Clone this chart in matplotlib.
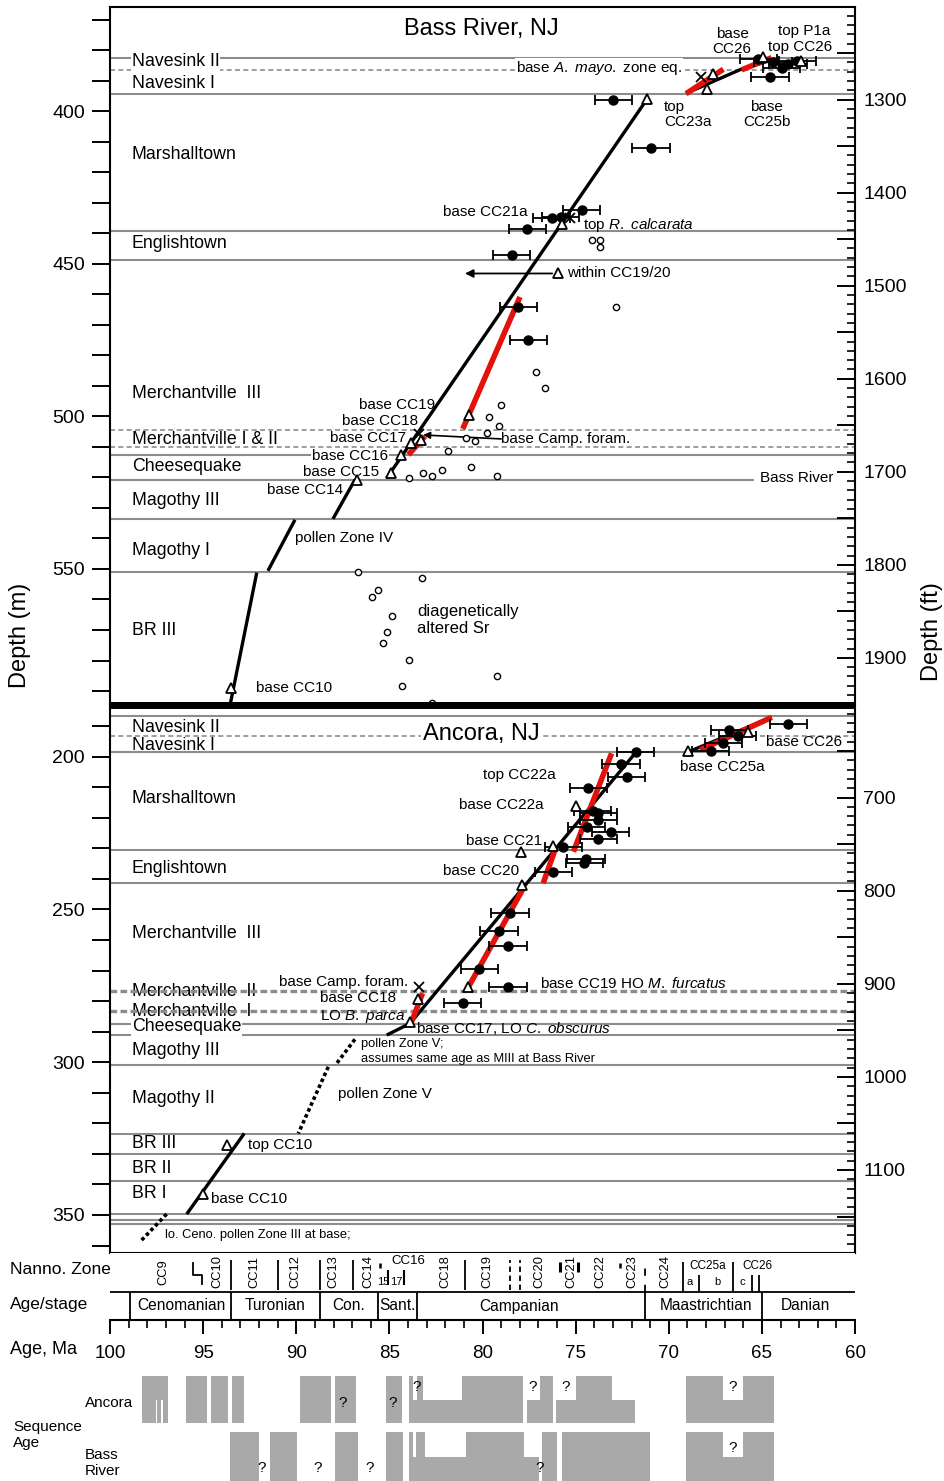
import numpy as np
import matplotlib.pyplot as plt
from matplotlib.ticker import MultipleLocator, FuncFormatter

plt.rcParams['font.family'] = ['Liberation Sans', 'DejaVu Sans']
plt.rcParams['mathtext.fontset'] = 'custom'
plt.rcParams['mathtext.rm'] = 'Liberation Sans'
plt.rcParams['mathtext.it'] = 'Liberation Sans:italic'

W, H = 944, 1481
FT = 0.3048
RED = '#e3120b'
GREY = '#8c8c8c'
BAR = '#a9a9a9'

# ---------------- Bass River (ages in Ma, depths in m) ----------------
br_units_solid = [382.7, 394.5, 439.3, 448.9, 512.8, 520.8, 533.5, 551.1]
br_units_dash = [386.4, 504.6, 510.2]
br_unit_names = ['Navesink II', 'Navesink I', 'Marshalltown', 'Englishtown',
                 'Merchantville  III', 'Merchantville I & II', 'Cheesequake',
                 'Magothy III', 'Magothy I', 'BR III']
br_unit_depths = [383.7, 390.9, 414.2, 443.4, 492.6, 507.6, 516.5, 527.6, 544.0, 570.3]

br_model = [([69.07, 66.12, 64.30], [394.2, 386.3, 383.0]),
            ([71.18, 85.14], [396.2, 520.2]),
            ([86.85, 88.03], [520.8, 533.6]),
            ([90.07, 91.52], [533.9, 550.6]),
            ([92.12, 93.60], [551.2, 596.0])]
br_red = [([69.07, 67.07], [394.3, 386.3]),
          ([66.09, 64.48], [386.5, 382.5]),
          ([77.99, 81.06], [460.9, 504.1]),
          ([83.09, 83.98], [506.5, 512.6])]

br_sr_age = [72.97, 70.95, 74.67, 75.80, 76.28, 77.60, 78.43, 78.08, 77.54,
             64.56, 63.94, 65.20, 64.40, 63.60, 63.10]
br_sr_depth = [396.3, 412.2, 432.5, 434.6, 435.0, 438.5, 447.3, 464.1, 474.9,
               388.7, 385.8, 383.0, 384.0, 384.5, 383.6]

br_alt_age = [72.85, 74.14, 73.69, 73.69, 77.14, 76.64, 79.02, 79.65, 79.10, 79.77,
              80.90, 80.40, 81.87, 80.62, 82.19, 83.18, 82.70, 83.95, 79.24, 86.70,
              83.24, 85.63, 85.95, 84.84, 85.11, 85.33, 83.93, 84.34, 82.70, 79.24]
br_alt_depth = [464.1, 442.3, 442.1, 444.4, 485.6, 490.8, 496.4, 500.1, 503.0, 505.6,
                507.2, 508.2, 511.5, 516.5, 517.5, 518.4, 519.5, 520.3, 519.4, 551.1,
                553.0, 556.8, 559.3, 565.3, 570.5, 574.3, 579.8, 588.2, 594.0, 585.2]

br_tri_age = [71.18, 67.93, 67.61, 64.93, 62.90, 75.75, 75.96, 80.73, 83.32, 83.86,
              84.38, 84.91, 86.76, 93.50]
br_tri_depth = [396.2, 392.7, 388.0, 382.2, 383.6, 437.1, 453.2, 499.7, 507.9, 508.7,
                512.6, 518.4, 521.0, 589.0]
br_x_age = [68.27, 83.39, 75.30]
br_x_depth = [388.7, 505.8, 435.0]

br_notes = [  # text, age, depth, ha, size
    ('base\nCC26', 66.60, 377.1, 'center', 11),
    ('top P1a', 64.13, 373.9, 'left', 11),
    ('top CC26', 64.67, 379.1, 'left', 11),
    ('top\nCC23a', 70.26, 401.1, 'left', 11),
    ('base\nCC25b', 64.73, 401.1, 'center', 11),
    ('base CC21a', 77.56, 433.2, 'right', 11),
    (r'top $\mathit{R.\ calcarata}$', 74.60, 437.2, 'left', 11),
    ('within CC19/20', 75.46, 453.2, 'left', 11),
    ('base CC19', 82.55, 496.2, 'right', 11),
    ('base CC18', 83.46, 501.4, 'right', 11),
    ('base CC17', 84.11, 507.0, 'right', 11),
    ('base CC15', 85.56, 518.1, 'right', 11),
    ('base CC14', 87.49, 524.0, 'right', 11),
    ('base Camp. foram.', 79.01, 507.3, 'left', 11),
    ('pollen Zone IV', 90.07, 539.8, 'left', 11),
    ('diagenetically\naltered Sr', 83.52, 566.7, 'left', 12),
    ('base CC10', 92.16, 589.0, 'left', 11),
]

# ---------------- Ancora ----------------
an_units_solid = [186.7, 198.4, 230.5, 241.4, 287.6, 291.1, 300.9, 323.6, 330.0,
                  338.8, 349.7, 351.7, 353.1]
an_units_dash = [193.2]
an_units_dash_bold = [276.7, 283.2]
an_unit_names = ['Navesink II', 'Navesink I', 'Marshalltown', 'Englishtown',
                 'Merchantville  III', 'Merchantville  II', 'Merchantville  I',
                 'Cheesequake', 'Magothy III', 'Magothy II', 'BR III', 'BR II', 'BR I']
an_unit_depths = [190.3, 196.2, 213.8, 236.7, 258.0, 277.0, 283.5, 288.4, 296.0,
                  312.0, 326.7, 334.9, 343.1]

an_model = [([71.77, 83.89, 85.14], [198.6, 287.3, 291.1]),
            ([92.79, 95.88], [323.3, 349.7]),
            ([68.95, 64.47], [198.4, 187.1])]
an_model_dotted = [([86.85, 87.83], [292.5, 300.4]),
                   ([88.28, 89.89], [301.5, 323.3]),
                   ([96.96, 98.39], [349.7, 358.8])]
an_red = [([76.74, 76.11], [241.4, 230.5]),
          ([75.12, 73.07], [231.1, 198.9]),
          ([80.85, 77.81], [276.4, 243.1]),
          ([83.80, 83.22], [286.7, 277.4]),
          ([68.32, 64.47], [197.8, 187.1])]

an_sr_age = [71.77, 72.56, 72.26, 74.32, 74.09, 73.79, 73.79, 74.41, 73.12, 73.79,
             75.66, 74.44, 74.53, 76.20, 78.52, 79.11, 78.63, 80.17, 78.63, 81.06,
             66.75, 66.30, 67.07, 67.75, 63.58]
an_sr_depth = [198.6, 202.4, 206.5, 210.3, 217.8, 218.3, 220.8, 223.1, 224.5, 227.0,
               229.5, 233.6, 234.9, 237.6, 251.3, 257.0, 261.9, 269.5, 275.3, 280.5,
               191.3, 193.2, 195.6, 198.0, 189.3]

an_tri_age = [77.92, 76.24, 74.98, 77.90, 80.76, 83.48, 83.89, 68.95, 65.73, 93.70, 95.00]
an_tri_depth = [231.1, 229.2, 216.0, 242.0, 275.3, 279.4, 286.7, 198.1, 191.8, 327.0, 343.0]
an_x_age = [83.41]
an_x_depth = [275.5]

an_notes = [
    ('base CC26', 64.78, 195.2, 'left', 11),
    ('base CC25a', 69.40, 203.4, 'left', 11),
    ('top CC22a', 79.97, 206.0, 'left', 11),
    ('base CC22a', 81.26, 215.8, 'left', 11),
    ('base CC21', 80.89, 227.6, 'left', 11),
    ('base CC20', 82.12, 237.4, 'left', 11),
    ('base Camp. foram.', 90.93, 273.7, 'left', 11),
    ('base CC18', 88.72, 279.0, 'left', 11),
    (r'LO $\mathit{B.\ parca}$', 88.72, 284.9, 'left', 11),
    (r'base CC19 HO $\mathit{M.\ furcatus}$', 76.91, 274.1, 'left', 11),
    (r'base CC17, LO $\mathit{C.\ obscurus}$', 83.57, 289.1, 'left', 11),
    ('pollen Zone V;', 86.52, 294.0, 'left', 9.3),
    ('assumes same age as MIII at Bass River', 86.52, 298.9, 'left', 9.3),
    ('pollen Zone V', 87.76, 310.4, 'left', 11),
    ('top CC10', 92.59, 327.1, 'left', 11),
    ('base CC10', 94.58, 344.8, 'left', 11),
    ('lo. Ceno. pollen Zone III at base;', 97.05, 356.6, 'left', 9.3),
]

# ---------------- time scale ----------------
stage_bounds = [98.9, 93.5, 88.7, 85.6, 83.5, 71.3, 65.0]
stage_names = ['Cenomanian', 'Turonian', 'Con.', 'Sant.', 'Campanian', 'Maastrichtian', 'Danian']
stage_mid = [96.19, 91.14, 87.17, 84.59, 78.04, 68.0, 62.68]

zone_names = ['CC9', 'CC10', 'CC11', 'CC12', 'CC13', 'CC14', 'CC18', 'CC19',
              'CC20', 'CC21', 'CC22', 'CC23', 'CC24']
zone_mid = [97.15, 94.26, 92.27, 90.07, 88.03, 86.15, 82.01, 79.76,
            76.97, 75.25, 73.69, 71.97, 70.20]
zone_bounds_full = [93.5, 90.98, 88.72, 86.95, 80.94, 69.23, 66.55]
zone_bounds_dash = [78.52, 77.99, 71.28]
zone_bounds_short = [85.50, 72.62]
zone_bounds_mid = [85.07, 84.21]
zone_bounds_bold = [75.84, 74.87]
zone_bounds_low = [68.38, 65.53, 65.15]

# sequences: (older age, younger age, full height?)
an_seq = [(98.28, 96.89, 1), (95.92, 94.79, 1), (94.58, 93.66, 1), (93.45, 92.81, 1),
          (89.80, 88.13, 1), (87.92, 86.79, 1), (85.18, 84.32, 1),
          (83.95, 83.73, 1), (83.73, 83.52, 0), (83.52, 83.19, 1), (83.19, 81.10, 0),
          (81.10, 77.83, 1), (77.61, 76.91, 0), (76.91, 76.21, 1),
          (76.05, 74.98, 0), (74.98, 73.05, 1), (73.05, 71.81, 0),
          (69.07, 67.11, 1), (67.11, 66.01, 0), (66.01, 64.35, 1)]
an_seq_gaps = [97.48, 97.21]
an_q = [(87.49, 0), (84.81, 0), (83.53, 1), (77.29, 1), (75.52, 1), (66.55, 1)]

br_seq = [(93.56, 92.00, 1), (91.41, 89.96, 1), (87.92, 86.68, 1), (85.18, 84.27, 1),
          (83.95, 83.73, 1), (83.73, 83.57, 0), (83.57, 83.09, 1), (83.09, 80.89, 0),
          (80.89, 77.77, 1), (77.77, 76.97, 0), (76.81, 76.00, 1), (75.73, 71.01, 1),
          (69.07, 67.11, 1), (67.11, 66.01, 0), (66.01, 64.35, 1)]
br_q = [(91.84, 0), (88.83, 0), (86.04, 0), (76.91, 0), (66.55, 1)]


def box(x0, y0, x1, y1):
    return [x0 / W, 1 - y1 / H, (x1 - x0) / W, (y1 - y0) / H]


fig = plt.figure(figsize=(W / 100, H / 100), dpi=100)


def depth_panel(rect, ylim):
    ax = fig.add_axes(rect)
    ax.set_xlim(100, 60)
    ax.set_ylim(*ylim)
    ax.set_xticks([])
    ax.yaxis.set_major_locator(MultipleLocator(10))
    ax.yaxis.set_major_formatter(FuncFormatter(
        lambda v, p: f'{v:.0f}' if round(v) % 50 == 0 else ''))
    ax.tick_params(axis='y', direction='out', length=13, width=1.4,
                   labelsize=14, pad=5)
    for s in ax.spines.values():
        s.set_linewidth(1.5)
    axr = ax.twinx()
    axr.set_ylim(ylim[0] / FT, ylim[1] / FT)
    axr.yaxis.set_major_locator(MultipleLocator(50))
    axr.yaxis.set_minor_locator(MultipleLocator(10))
    axr.yaxis.set_major_formatter(FuncFormatter(
        lambda v, p: f'{v:.0f}' if round(v) % 100 == 0 else ''))
    axr.tick_params(axis='y', which='major', direction='in', length=13, width=1.4,
                    labelsize=14, pad=6)
    axr.tick_params(axis='y', which='minor', direction='in', length=6, width=1.2)
    for s in axr.spines.values():
        s.set_visible(False)
    return ax


def draw_marks(ax, model, red, sr_a, sr_d, tri_a, tri_d, x_a, x_d):
    for a, d in model:
        ax.plot(a, d, color='k', lw=2.4, solid_capstyle='butt', zorder=4)
    for a, d in red:
        ax.plot(a, d, color=RED, lw=4, solid_capstyle='butt', zorder=4.5)
    ax.errorbar(sr_a, sr_d, xerr=1.0, fmt='o', ms=6.5, mfc='k', mec='k', ecolor='k',
                elinewidth=1.3, capsize=3.5, capthick=1.3, zorder=5)
    ax.plot(tri_a, tri_d, ls='none', marker='^', ms=7, mfc='white', mec='k',
            mew=1.3, zorder=6)
    ax.plot(x_a, x_d, ls='none', marker='x', ms=7, mec='k', mew=1.3, zorder=6)


# ---- Bass River panel ----
ax1 = depth_panel(box(110, 7, 855, 704.5), (594.4, 365.9))
ax1.spines['bottom'].set_linewidth(5)
ax1.spines['bottom'].set_capstyle('butt')
ax1.hlines(br_units_solid[:5], 100, 60, color=GREY, lw=1.5, zorder=1)
ax1.hlines(br_units_solid[5], 100, 65.4, color=GREY, lw=1.5, zorder=1)
ax1.hlines(br_units_solid[6:], 100, 60, color=GREY, lw=1.5, zorder=1)
ax1.hlines(br_units_dash, 100, 60, color=GREY, lw=1.2, linestyles=(0, (3, 2)), zorder=1)
for name, d in zip(br_unit_names, br_unit_depths):
    ax1.text(98.82, d, name, fontsize=12.8, va='center', ha='left', zorder=2,
             bbox=dict(fc='white', ec='none', pad=0.5) if name == 'Navesink II' else None)
ax1.text(80.08, 373.2, 'Bass River, NJ', fontsize=17, ha='center', va='center')
ax1.text(78.20, 386.0, r'base $\mathit{A.\ mayo.}$ zone eq.', fontsize=11,
         va='center', ha='left', zorder=2, bbox=dict(fc='white', ec='none', pad=1))
ax1.text(85.07, 512.9, 'base CC16', fontsize=11, va='center', ha='right', zorder=2,
         bbox=dict(fc='white', ec='none', pad=0.5))
ax1.text(61.18, 520.1, 'Bass River', fontsize=11, va='center', ha='right', zorder=2)
for t, a, d, ha, fs in br_notes:
    ax1.text(a, d, t, fontsize=fs, va='center', ha=ha, zorder=3, linespacing=1.1)
ax1.plot(br_alt_age, br_alt_depth, ls='none', marker='o', ms=4.5, mfc='white',
         mec='k', mew=1, zorder=5)
draw_marks(ax1, br_model, br_red, br_sr_age, br_sr_depth, br_tri_age, br_tri_depth,
           br_x_age, br_x_depth)
ax1.annotate('', xy=(80.94, 453.2), xytext=(75.96, 453.2),
             arrowprops=dict(arrowstyle='-|>', color='k', lw=1.3, mutation_scale=12,
                             shrinkA=4, shrinkB=0), zorder=4)
ax1.annotate('', xy=(83.19, 506.1), xytext=(79.0, 507.4),
             arrowprops=dict(arrowstyle='-|>', color='k', lw=1.2, mutation_scale=10,
                             shrinkA=0, shrinkB=0), zorder=4)

# ---- Ancora panel ----
ax2 = depth_panel(box(110, 704.5, 855, 1253), (362.45, 182.9))
ax2.spines['top'].set_linewidth(5)
ax2.spines['top'].set_capstyle('butt')
ax2.hlines(an_units_solid, 100, 60, color=GREY, lw=1.5, zorder=1)
ax2.hlines(an_units_dash, 100, 60, color=GREY, lw=1.2, linestyles=(0, (3, 2)), zorder=1)
ax2.hlines(an_units_dash_bold, 100, 60, color=GREY, lw=2.4, linestyles=(0, (2, 1)), zorder=2)
for name, d in zip(an_unit_names, an_unit_depths):
    ax2.text(98.82, d, name, fontsize=12.8, va='center', ha='left', zorder=1.5,
             bbox=dict(fc='white', ec='none', pad=0.5) if name == 'Cheesequake' else None)
ax2.text(80.08, 192.6, 'Ancora, NJ', fontsize=17, ha='center', va='center', zorder=2,
         bbox=dict(fc='white', ec='none', pad=1))
for t, a, d, ha, fs in an_notes:
    ax2.text(a, d, t, fontsize=fs, va='center', ha=ha, zorder=3)
for a, d in an_model_dotted:
    ax2.plot(a, d, color='k', lw=2.6, ls=(0, (1, 0.8)), zorder=4)
draw_marks(ax2, an_model, an_red, an_sr_age, an_sr_depth, an_tri_age, an_tri_depth,
           an_x_age, an_x_depth)

# ---- nannofossil zones, stages and age scale ----
ax3 = fig.add_axes(box(110, 1253, 855, 1320))
ax3.set_xlim(100, 60)
ax3.set_ylim(0, 67)
for s in ['top', 'left', 'right']:
    ax3.spines[s].set_visible(False)
ax3.spines['bottom'].set_linewidth(1.5)
ax3.set_yticks([])
ax3.xaxis.set_major_locator(MultipleLocator(5))
ax3.xaxis.set_minor_locator(MultipleLocator(1))
ax3.xaxis.set_major_formatter(FuncFormatter(lambda v, p: f'{v:.0f}'))
ax3.tick_params(axis='x', which='major', direction='out', length=10, width=1.4,
                labelsize=13.5, pad=8)
ax3.tick_params(axis='x', which='minor', direction='out', length=6, width=1.2)
ax3.axhline(28, color='k', lw=1.3)
ax3.vlines(stage_bounds, 0, 28, color='k', lw=1.3)
for n, a in zip(stage_names, stage_mid):
    ax3.text(a, 14, n, fontsize=11.2, ha='center', va='center')
for n, a in zip(zone_names, zone_mid):
    ax3.text(a, 48, n, fontsize=9.3, ha='center', va='center', rotation=90)
ax3.text(84.0, 59, 'CC16', fontsize=9.5, ha='center', va='center')
ax3.text(85.33, 38, '15', fontsize=8, ha='center', va='center')
ax3.text(84.62, 38, '17', fontsize=8, ha='center', va='center')
ax3.text(67.89, 54, 'CC25a', fontsize=8.5, ha='center', va='center')
ax3.text(65.26, 54, 'CC26', fontsize=8.5, ha='center', va='center')
for ch, a in zip('abc', [68.86, 67.41, 66.07]):
    ax3.text(a, 38, ch, fontsize=8, ha='center', va='center')
ax3.vlines(zone_bounds_full[:5], 30, 60, color='k', lw=1.3)
ax3.vlines(zone_bounds_full[5:], 28, 58, color='k', lw=1.3)
ax3.vlines(zone_bounds_dash[:2], 30, 60, color='k', lw=1.3, linestyles=(0, (3, 2)))
ax3.vlines(zone_bounds_dash[2:], 28, 58, color='k', lw=1.3, linestyles=(0, (4, 5)))
ax3.vlines(zone_bounds_short, 52, 57, color='k', lw=1.8)
ax3.vlines(zone_bounds_mid, 35, 50, color='k', lw=1.5)
ax3.vlines(zone_bounds_bold, 48, 58, color='k', lw=2.2)
ax3.vlines(zone_bounds_low, 28, 45, color='k', lw=1.3)
ax3.plot([95.54, 95.54, 95.06, 95.06], [57, 45, 45, 36], color='k', lw=1.3)

# ---- sequence ages ----
ax4 = fig.add_axes(box(110, 1370, 855, 1481))
ax4.set_xlim(100, 60)
ax4.set_ylim(0, 1)
ax4.axis('off')


def seq_row(rows, lo, hi, part):
    for old, young, full in rows:
        top = hi if full else part
        ax4.bar(young, top - lo, width=old - young, bottom=lo, align='edge',
                color=BAR, lw=0)


seq_row(an_seq, 0.523, 0.946, 0.73)
ax4.bar(an_seq_gaps, 0.73 - 0.523, width=0.06, bottom=0.523, color='white', lw=0)
seq_row(br_seq, 0.0, 0.441, 0.216)
for a, up in an_q:
    ax4.text(a, 0.85 if up else 0.70, '?', fontsize=11, ha='center', va='center')
for a, up in br_q:
    ax4.text(a, 0.30 if up else 0.12, '?', fontsize=11, ha='center', va='center')

# ---- figure labels ----
fig.text(20 / W, 1 - 635 / H, 'Depth (m)', fontsize=17, rotation=90,
         ha='center', va='center')
fig.text(932 / W, 1 - 632 / H, 'Depth (ft)', fontsize=17, rotation=90,
         ha='center', va='center')
fig.text(10 / W, 1 - 1269 / H, 'Nanno. Zone', fontsize=12.5, va='center')
fig.text(10 / W, 1 - 1305 / H, 'Age/stage', fontsize=12.5, va='center')
fig.text(10 / W, 1 - 1350 / H, 'Age, Ma', fontsize=13, va='center')
fig.text(85 / W, 1 - 1403 / H, 'Ancora', fontsize=11, va='center')
fig.text(13 / W, 1 - 1435 / H, 'Sequence\nAge', fontsize=11, va='center')
fig.text(85 / W, 1 - 1463 / H, 'Bass\nRiver', fontsize=11, va='center')

fig.savefig('out.png', dpi=100)
